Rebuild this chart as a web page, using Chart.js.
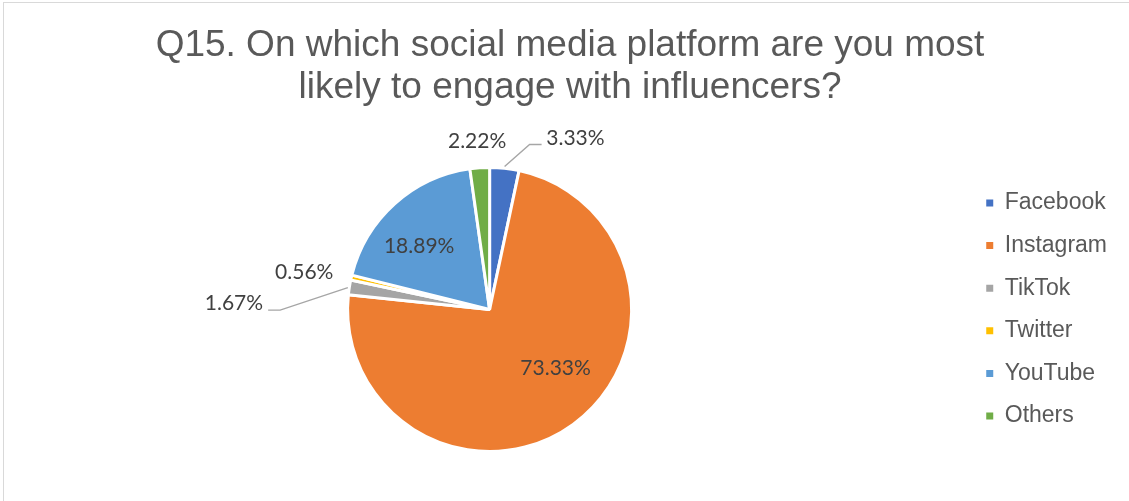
<!DOCTYPE html>
<html>
<head>
<meta charset="utf-8">
<script src="https://cdn.jsdelivr.net/npm/chart.js@4.4.1/dist/chart.umd.min.js"></script>
<style>
  html, body { margin: 0; padding: 0; background: #fff; overflow: hidden; }
  #frame {
    position: absolute; left: 3px; top: 2px;
    border-left: 1px solid #d9d9d9; border-top: 1px solid #d9d9d9;
  }
  canvas { display: block; }
</style>
</head>
<body>
<div id="frame"><canvas id="pie" width="1132" height="498"></canvas></div>
<script>
// Survey answers, Q15
const platforms = ['Facebook', 'Instagram', 'TikTok', 'Twitter', 'YouTube', 'Others'];
const shares = [3.33, 73.33, 1.67, 0.56, 18.89, 2.22];
const sliceColors = ['#4472C4', '#ED7D31', '#A5A5A5', '#FFC000', '#5B9BD5', '#70AD47'];
const titleLines = ['Q15. On which social media platform are you most', 'likely to engage with influencers?'];

// where each percentage label sits, relative to its slice (outside = offset from the rim point)
const labelPlacement = [
    { out: true, dx: 42, dy: -32, align: 'left', leader: [[0.3, -3.3], [25.3, -25.3], [37.3, -25.3]] },
    { out: false, r: 0.62, da: -12.5 },
    { out: true, dx: -87.7, dy: 15.6, align: 'right', leader: [[-3, 0], [-70.7, 22.6], [-82.7, 22.6]] },
    { out: true, dx: -19.3, dy: -6.1, align: 'right' },
    { out: false, r: 0.669, da: -5.9 },
    { out: true, dx: -2.7, dy: -28.1, align: 'center' }
];

const SANS = '"Liberation Sans", Arial, sans-serif';

// percentage labels + leader lines
const sliceLabels = {
    id: 'sliceLabels',
    afterDatasetsDraw(chart) {
        const ctx = chart.ctx;
        const arcs = chart.getDatasetMeta(0).data;
        ctx.save();
        ctx.font = '21px Lato, "Open Sans", sans-serif';
        ctx.fillStyle = '#404040';
        ctx.textBaseline = 'middle';
        arcs.forEach((arc, i) => {
            const p = labelPlacement[i];
            const mid = (arc.startAngle + arc.endAngle) / 2;
            const text = shares[i].toFixed(2) + '%';
            if (p.out) {
                const r = arc.outerRadius - 1.5;
                const ex = arc.x + r * Math.cos(mid);
                const ey = arc.y + r * Math.sin(mid);
                if (p.leader) {
                    ctx.beginPath();
                    ctx.strokeStyle = '#a6a6a6';
                    ctx.lineWidth = 1.4;
                    p.leader.forEach(([lx, ly], k) => {
                        if (k === 0) ctx.moveTo(ex + lx, ey + ly);
                        else ctx.lineTo(ex + lx, ey + ly);
                    });
                    ctx.stroke();
                }
                ctx.textAlign = p.align;
                ctx.fillText(text, ex + p.dx, ey + p.dy);
            } else {
                const a = mid + p.da * Math.PI / 180;
                const r = arc.outerRadius * p.r;
                ctx.textAlign = 'center';
                ctx.fillText(text, arc.x + r * Math.cos(a), arc.y + r * Math.sin(a));
            }
        });
        ctx.restore();
    }
};

// centre the title on the whole canvas, not on the padded box
const titleCentre = {
    id: 'titleCentre',
    afterLayout(chart) {
        if (chart.titleBlock) {
            chart.titleBlock.left = 0;
            chart.titleBlock.right = chart.width;
        }
    }
};

const baseLabels = Chart.overrides.doughnut.plugins.legend.labels.generateLabels;

new Chart(document.getElementById('pie'), {
    type: 'pie',
    data: {
        labels: platforms,
        datasets: [{
            data: shares,
            backgroundColor: sliceColors,
            borderColor: '#ffffff',
            borderWidth: 3,
            hoverBorderWidth: 3
        }]
    },
    options: {
        responsive: false,
        animation: false,
        events: [],
        layout: {
            padding: { top: 0, bottom: 48, left: 8.6, right: 19 }
        },
        plugins: {
            title: {
                display: true,
                text: titleLines,
                color: '#595959',
                font: { size: 37, family: SANS, weight: 'normal', lineHeight: 1.135 },
                padding: { top: 21.5, bottom: 57.5 }
            },
            legend: {
                position: 'right',
                fullSize: false,
                labels: {
                    color: '#595959',
                    font: { size: 23, family: SANS },
                    boxWidth: 7,
                    boxHeight: 7,
                    padding: 19.6,
                    generateLabels(chart) {
                        return baseLabels(chart).map(item => Object.assign(item, { lineWidth: 0, strokeStyle: item.fillStyle }));
                    }
                }
            },
            tooltip: { enabled: false }
        }
    },
    plugins: [sliceLabels, titleCentre]
});
</script>
</body>
</html>
